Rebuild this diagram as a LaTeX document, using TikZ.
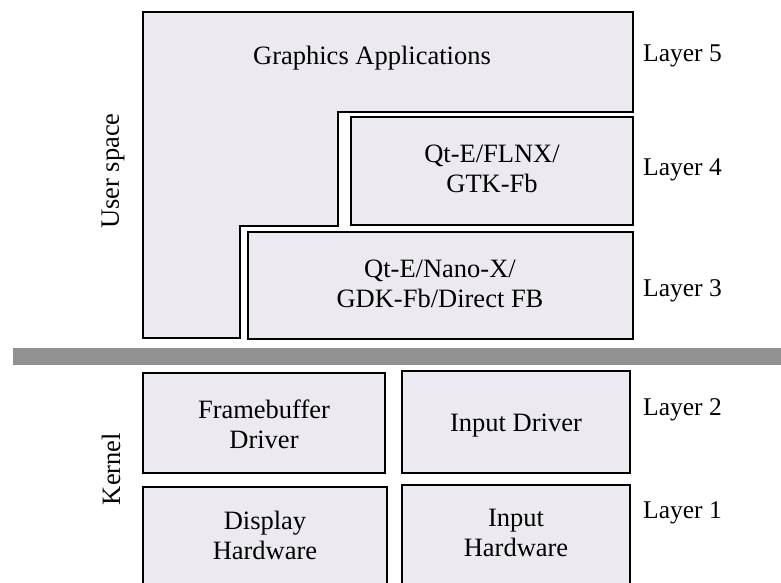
\documentclass[tikz,border=0pt]{standalone}
\usepackage{fontspec}
\setmainfont{Liberation Serif}
\definecolor{boxfill}{RGB}{236,234,240}
\definecolor{barfill}{RGB}{145,145,145}
\begin{document}
\begin{tikzpicture}[x=1pt,y=-1pt,
  blk/.style={draw=black,line width=1.5pt,fill=boxfill},
  txt/.style={font=\fontsize{26.5}{30}\selectfont,align=center,inner sep=0pt},
  lay/.style={font=\fontsize{25.5}{30}\selectfont,anchor=west,inner sep=0pt}]
\useasboundingbox (0,0) rectangle (781,582);
\clip (0,0) rectangle (781,582);
% user space
\draw[blk] (143,12) -- (633,12) -- (633,112) -- (338,112) -- (338,226) -- (240,226) -- (240,338) -- (143,338) -- cycle;
\node[txt] (ga) at (372,58) {Graphics Applications};
\draw[blk] (351,117) rectangle (633,225);
\node[txt] (l4) at (492,169) {Qt-E/FLNX/\\GTK-Fb};
\draw[blk] (248,232) rectangle (633,339);
\node[txt] (l3) at (440,284) {Qt-E/Nano-X/\\GDK-Fb/Direct FB};
% bar
\fill[barfill] (13,348) rectangle (781,365);
% kernel
\draw[blk] (143,373) rectangle (385,473);
\node[txt] (fb) at (264,424) {Framebuffer\\Driver};
\draw[blk] (402,371) rectangle (630,473);
\node[txt] (id) at (516,426) {Input Driver};
\draw[blk] (143,487) rectangle (387,600);
\node[txt] (dh) at (265,535) {Display\\Hardware};
\draw[blk] (402,485) rectangle (630,600);
\node[txt] (ih) at (516,533) {Input\\Hardware};
% layer labels
\node[lay] (L5) at (643,56) {Layer 5};
\node[lay] (L4) at (643,170) {Layer 4};
\node[lay] (L3) at (643,291) {Layer 3};
\node[lay] (L2) at (643,410) {Layer 2};
\node[lay] (L1) at (643,513) {Layer 1};
% side labels
\node[txt,rotate=90] (us) at (113,171) {User space};
\node[txt,rotate=90] (kn) at (111,469) {Kernel};
\end{tikzpicture}
\end{document}
